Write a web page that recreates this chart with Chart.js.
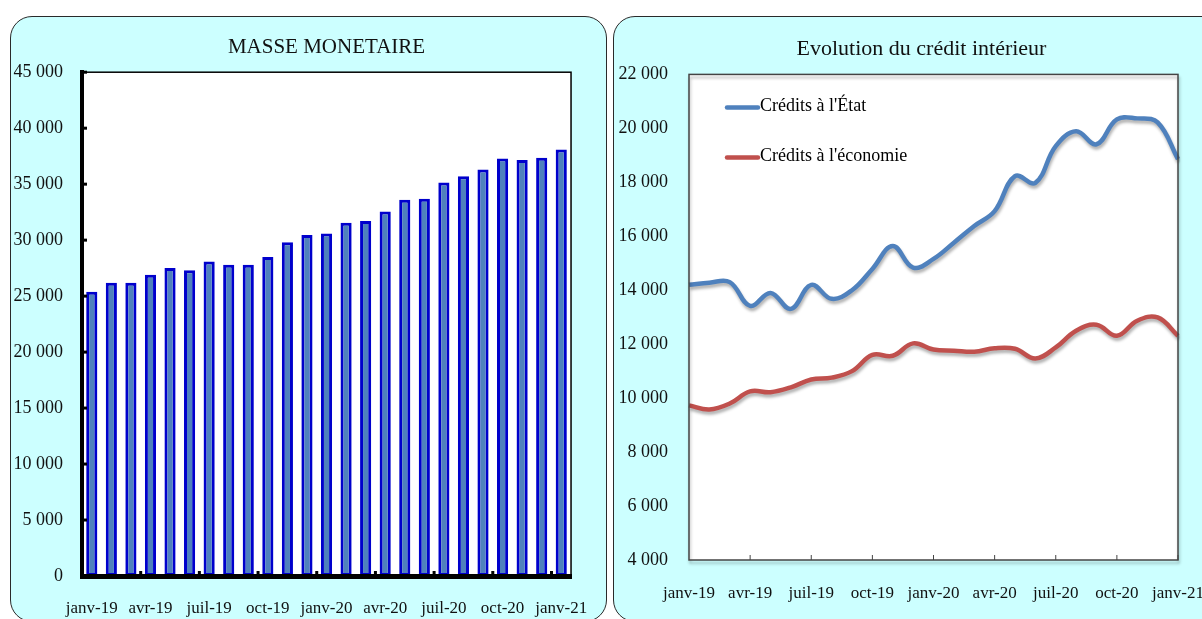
<!DOCTYPE html>
<html>
<head>
<meta charset="utf-8">
<script src="https://cdn.jsdelivr.net/npm/chart.js@4.4.1/dist/chart.umd.min.js"></script>
<style>
  body { margin: 0; width: 1202px; height: 619px; overflow: hidden; position: relative; background: #fff; }
  .panel { position: absolute; background: #ccffff; border: 1.5px solid #2a2a2a; border-radius: 22px; box-sizing: border-box; }
  #p1 { left: 10px; top: 16px; width: 597px; height: 606px; }
  #p2 { left: 613px; top: 16px; width: 620px; height: 606px; }
  canvas { position: absolute; top: 0; }
  #masse { left: 0; }
  #credit { left: 613px; }
</style>
</head>
<body>
<div class="panel" id="p1"></div>
<div class="panel" id="p2"></div>
<canvas id="masse" width="610" height="619"></canvas>
<canvas id="credit" width="617" height="619"></canvas>
<script>
const FONT = "'Liberation Serif', 'Times New Roman', serif";

// monthly labels, janv-19 .. janv-21
const months = [
  "janv-19", "févr-19", "mars-19", "avr-19", "mai-19", "juin-19", "juil-19", "août-19", "sept-19", "oct-19", "nov-19", "déc-19",
  "janv-20", "févr-20", "mars-20", "avr-20", "mai-20", "juin-20", "juil-20", "août-20", "sept-20", "oct-20", "nov-20", "déc-20",
  "janv-21"
];

// masse monetaire (bars)
const masseMonetaire = [25400, 26200, 26200, 26900, 27500, 27300, 28100, 27800, 27800, 28500, 29800, 30450,
  30600, 31550, 31700, 32550, 33600, 33700, 35150, 35700, 36300, 37300, 37150, 37350, 38100];

// credit interieur (lines)
const creditsEtat = [14200, 14280, 14300, 13420, 13900, 13310, 14200, 13680, 14000, 14790, 15640, 14840,
  15160, 15760, 16380, 16930, 18230, 17980, 19340, 19890, 19410, 20330, 20370, 20220, 18860];
const creditsEconomie = [9730, 9580, 9800, 10250, 10220, 10400, 10690, 10760, 11000, 11600, 11570, 12030,
  11800, 11760, 11720, 11850, 11830, 11470, 11880, 12500, 12720, 12310, 12870, 12990, 12310];

function fmt(v) {
  return String(v).replace(/\B(?=(\d{3})+(?!\d))/g, " ");
}

// white plot background + frame
const plotFrame = {
  id: "plotFrame",
  beforeDraw(chart) {
    const { ctx, chartArea: a } = chart;
    ctx.save();
    ctx.fillStyle = "#fff";
    ctx.fillRect(a.left, a.top, a.width, a.height);
    ctx.restore();
  },
  afterDatasetsDraw(chart, args, opts) {
    const { ctx, chartArea: a } = chart;
    ctx.save();
    ctx.strokeStyle = opts.color;
    ctx.lineWidth = opts.width;
    ctx.strokeRect(a.left, a.top, a.width, a.height);
    ctx.restore();
  }
};

// small tick marks pointing into the plot
const innerTicks = {
  id: "innerTicks",
  afterDraw(chart, args, opts) {
    const { ctx, chartArea: a, scales: { x, y } } = chart;
    ctx.save();
    ctx.strokeStyle = opts.color;
    if (opts.yLen) {
      ctx.lineWidth = opts.yWidth;
      y.ticks.forEach(t => {
        const py = y.getPixelForValue(t.value);
        ctx.beginPath();
        ctx.moveTo(a.left, py);
        ctx.lineTo(a.left + opts.yLen, py);
        ctx.stroke();
      });
    }
    ctx.lineWidth = opts.xWidth;
    const n = chart.data.labels.length;
    for (let i = opts.step; i < n; i += opts.step) {
      let px = x.getPixelForValue(i);
      if (opts.between) px = (px + x.getPixelForValue(i - 1)) / 2;
      ctx.beginPath();
      ctx.moveTo(px, a.bottom);
      ctx.lineTo(px, a.bottom - opts.xLen);
      ctx.stroke();
    }
    ctx.restore();
  }
};

// soft shadow under the lines
const lineShadow = {
  id: "lineShadow",
  beforeDatasetsDraw(chart) {
    const c = chart.ctx;
    c.save();
    c.shadowColor = "rgba(0,0,0,0.3)";
    c.shadowBlur = 3;
    c.shadowOffsetX = 1;
    c.shadowOffsetY = 3;
  },
  afterDatasetsDraw(chart) {
    chart.ctx.restore();
  }
};

// legend drawn inside the plot, top-left
const insideLegend = {
  id: "insideLegend",
  afterDraw(chart, args, o) {
    const { ctx, chartArea: a } = chart;
    chart.data.datasets.forEach((ds, i) => {
      const y = a.top + o.top + i * o.gap;
      const x0 = a.left + o.left;
      ctx.save();
      ctx.strokeStyle = ds.borderColor;
      ctx.lineWidth = ds.borderWidth;
      ctx.lineCap = "round";
      ctx.beginPath();
      ctx.moveTo(x0, y);
      ctx.lineTo(x0 + o.lineLen, y);
      ctx.stroke();
      ctx.fillStyle = "#000";
      ctx.font = o.size + "px " + FONT;
      ctx.textBaseline = "middle";
      ctx.fillText(ds.label, x0 + o.lineLen + 2, y - 1);
      ctx.restore();
    });
  }
};

new Chart(document.getElementById("masse"), {
  type: "bar",
  data: {
    labels: months,
    datasets: [{
      label: "Masse monétaire",
      data: masseMonetaire,
      backgroundColor: "#4f81bd",
      borderColor: "#0000cc",
      borderWidth: 3,
      borderSkipped: false,
      categoryPercentage: 1,
      barPercentage: 0.57
    }]
  },
  options: {
    responsive: false,
    animation: false,
    layout: { padding: { top: 0, right: 38, bottom: 0, left: 0 } },
    plugins: {
      legend: { display: false },
      tooltip: { enabled: false },
      title: {
        display: true,
        fullSize: false,
        text: "MASSE MONETAIRE",
        color: "#111",
        font: { family: FONT, size: 21, weight: "normal" },
        padding: { top: 35, bottom: 12 }
      },
      plotFrame: { color: "#000", width: 1.5 },
      innerTicks: { color: "#000", yLen: 5, yWidth: 3, xLen: 5, xWidth: 3, step: 3, between: true }
    },
    scales: {
      x: {
        grid: { display: false, drawTicks: false },
        border: { color: "#000", width: 5, z: 1 },
        ticks: {
          autoSkip: false,
          maxRotation: 0,
          padding: 22,
          color: "#111",
          font: { family: FONT, size: 17 },
          callback: (v, i) => (i % 3 === 0 ? months[i] : "")
        },
        afterFit(s) { s.height = 43; }
      },
      y: {
        min: 0,
        max: 45000,
        grid: { display: false, drawTicks: false },
        border: { color: "#000", width: 4, z: 1 },
        ticks: {
          stepSize: 5000,
          padding: 19,
          color: "#111",
          font: { family: FONT, size: 18 },
          callback: v => fmt(v)
        },
        afterFit(s) { s.width = 82; }
      }
    }
  },
  plugins: [plotFrame, innerTicks]
});

new Chart(document.getElementById("credit"), {
  type: "line",
  data: {
    labels: months,
    datasets: [{
      label: "Crédits à l'État",
      data: creditsEtat,
      borderColor: "#4f81bd",
      borderWidth: 4.5,
      pointRadius: 0,
      tension: 0.4
    }, {
      label: "Crédits à l'économie",
      data: creditsEconomie,
      borderColor: "#c0504d",
      borderWidth: 4.5,
      pointRadius: 0,
      tension: 0.4
    }]
  },
  options: {
    responsive: false,
    animation: false,
    layout: { padding: 0 },
    plugins: {
      legend: { display: false },
      tooltip: { enabled: false },
      title: {
        display: true,
        text: "Evolution du crédit intérieur",
        color: "#111",
        font: { family: FONT, size: 22, weight: "normal" },
        padding: { top: 36, bottom: 12 }
      },
      plotFrame: { color: "#444", width: 1.5 },
      innerTicks: { color: "#444", yLen: 0, xLen: 5, xWidth: 1, step: 3, between: false },
      insideLegend: { left: 38, top: 33, gap: 50, lineLen: 31, size: 18 }
    },
    scales: {
      x: {
        offset: false,
        grid: { display: false, drawTicks: false },
        border: { display: false },
        ticks: {
          autoSkip: false,
          maxRotation: 0,
          padding: 23,
          color: "#111",
          font: { family: FONT, size: 17 },
          callback: (v, i) => (i % 3 === 0 ? months[i] : "")
        },
        afterFit(s) { s.height = 59; }
      },
      y: {
        min: 4000,
        max: 22000,
        grid: { display: false, drawTicks: false },
        border: { display: false },
        ticks: {
          stepSize: 2000,
          padding: 21,
          color: "#111",
          font: { family: FONT, size: 18 },
          callback: v => fmt(v)
        },
        afterFit(s) { s.width = 76; }
      },
      // empty right margin so the title centres on the whole panel
      spacer: {
        position: "right",
        grid: { display: false, drawTicks: false },
        border: { display: false },
        ticks: { display: false },
        afterFit(s) { s.width = 52; }
      }
    }
  },
  plugins: [plotFrame, innerTicks, lineShadow, insideLegend]
});
</script>
</body>
</html>
